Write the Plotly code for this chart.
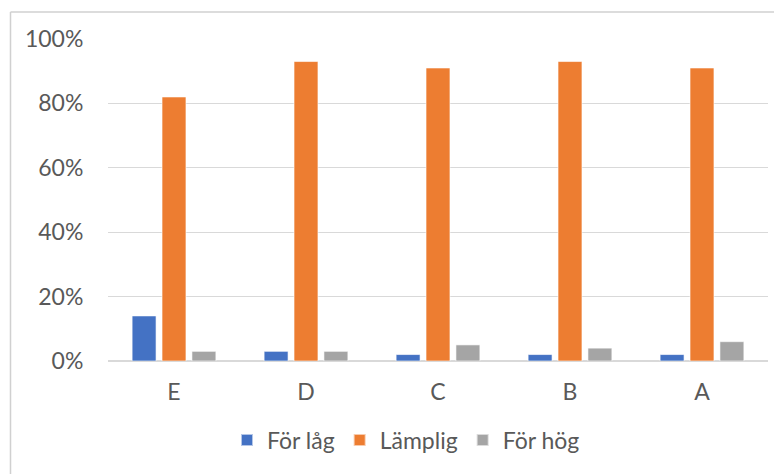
import plotly.graph_objects as go

categories = ["E", "D", "C", "B", "A"]
for_lag = [0.14, 0.03, 0.02, 0.02, 0.02]
lamplig = [0.82, 0.93, 0.91, 0.93, 0.91]
for_hog = [0.03, 0.03, 0.05, 0.04, 0.06]
series_names = ["För låg", "Lämplig", "För hög"]
colors = ["#4472C4", "#ED7D31", "#A5A5A5"]
y_ticks = [0, 0.2, 0.4, 0.6, 0.8, 1.0]
y_tick_labels = ["0%", "20%", "40%", "60%", "80%", "100%"]

FONT = "Lato, Open Sans, sans-serif"
TXT = "#595959"
FS = 23

fig = go.Figure()
for name, vals, col in zip(series_names, [for_lag, lamplig, for_hog], colors):
    fig.add_trace(go.Bar(
        x=categories, y=vals, name=name,
        marker=dict(color=col, line=dict(color="rgba(255,255,255,0.6)", width=1)),
    ))

# page has an 8px body margin; figure coordinates = page coordinates - 8
OFF = 8
W, H = 782 - OFF, 474 - OFF
L, R, T, B = 108 - OFF, 782 - 768, 39 - OFF, 474 - 361
pw, ph = W - L - R, H - T - B

def px_x(p):
    return (p - OFF - L) / pw

def px_y(p):
    return (H - B - (p - OFF)) / ph

frame = dict(color="#D0D0D0", width=1.5)

fig.update_layout(
    template="none",
    width=W, height=H,
    margin=dict(l=L, r=R, t=T, b=B, autoexpand=False),
    paper_bgcolor="white", plot_bgcolor="white",
    barmode="group", bargap=0.32, bargroupgap=0.2,
    font=dict(family=FONT, size=FS, color=TXT),
    showlegend=True,
    legend=dict(
        orientation="h", x=px_x(406), y=px_y(440),
        xanchor="center", yanchor="middle",
        font=dict(family=FONT, size=FS, color=TXT),
        itemsizing="constant", traceorder="normal",
        bgcolor="rgba(0,0,0,0)",
    ),
    xaxis=dict(
        automargin=False,
        showgrid=False, showline=False, zeroline=False,
        ticks="outside", ticklen=10, tickcolor="rgba(0,0,0,0)",
        tickfont=dict(family=FONT, size=FS, color=TXT),
        fixedrange=True,
    ),
    yaxis=dict(
        automargin=False,
        range=[0, 1.0], tickvals=y_ticks, ticktext=y_tick_labels,
        showgrid=True, gridcolor="#D9D9D9", gridwidth=1.3,
        zeroline=True, zerolinecolor="#D9D9D9", zerolinewidth=1.5,
        showline=False,
        ticks="outside", ticklen=19, tickcolor="rgba(0,0,0,0)",
        tickfont=dict(family=FONT, size=FS, color=TXT),
        fixedrange=True,
    ),
    shapes=[
        dict(type="line", xref="paper", yref="paper",
             x0=px_x(10.5), x1=px_x(790), y0=px_y(12), y1=px_y(12),
             line=frame, layer="below"),
        dict(type="line", xref="paper", yref="paper",
             x0=px_x(10.5), x1=px_x(10.5), y0=px_y(12), y1=px_y(480),
             line=frame, layer="below"),
    ],
)

fig.write_html("out.html")
